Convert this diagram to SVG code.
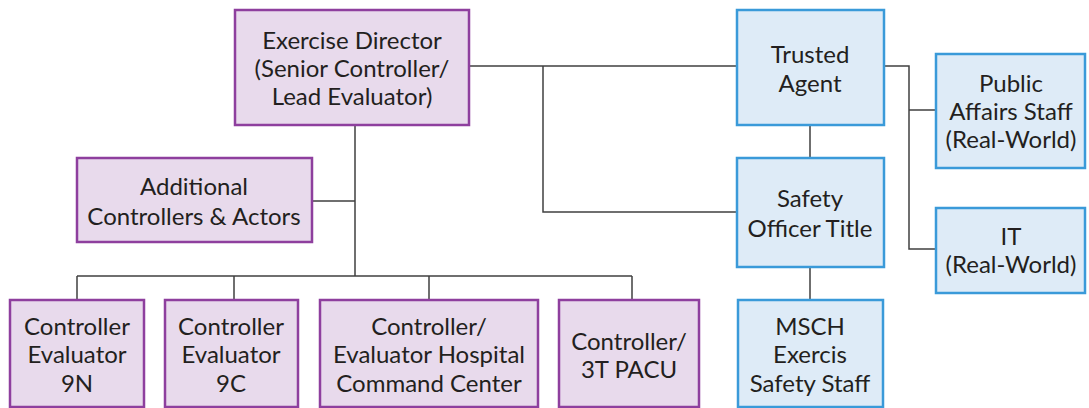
<svg xmlns="http://www.w3.org/2000/svg" width="1089" height="408" viewBox="0 0 1089 408">
<style>
.p{fill:#E8DAEC;stroke:#8E3F9E;stroke-width:2.5}
.b{fill:#DEEBF7;stroke:#3A9AD9;stroke-width:2.5}
.t{font-family:Lato,"Liberation Sans",sans-serif;font-size:24px;fill:#231F20;text-anchor:middle}
.c{fill:none;stroke:#404040;stroke-width:1.5}
</style>
<rect width="1089" height="408" fill="#fff"/>
<g id="connectors">
<path class="c" d="M469 66H737M543 66V212H737M355 125V276M312 201H355M77 276H632M77 276V300M234 276V300M429 276V300M632 276V300M884 66H909V249H936M909 110H936M810 125V158M810 267V300"/>
</g>
<g id="director"><rect class="p" x="235" y="10" width="234" height="115"/>
<text class="t" x="352" y="49">Exercise Director</text><text class="t" x="352" y="77">(Senior Controller/</text><text class="t" x="352" y="105">Lead Evaluator)</text></g>
<g id="trusted"><rect class="b" x="737" y="10" width="147" height="115"/>
<text class="t" x="810" y="63">Trusted</text><text class="t" x="810" y="92">Agent</text></g>
<g id="public"><rect class="b" x="936" y="54" width="149" height="114"/>
<text class="t" x="1011" y="92">Public</text><text class="t" x="1011" y="120">Affairs Staff</text><text class="t" x="1011" y="148">(Real-World)</text></g>
<g id="it"><rect class="b" x="936" y="208" width="149" height="85"/>
<text class="t" x="1011" y="245">IT</text><text class="t" x="1011" y="273">(Real-World)</text></g>
<g id="safety"><rect class="b" x="737" y="158" width="147" height="109"/>
<text class="t" x="810" y="207">Safety</text><text class="t" x="810" y="237">Officer Title</text></g>
<g id="msch"><rect class="b" x="738" y="300" width="145" height="107"/>
<text class="t" x="810" y="335">MSCH</text><text class="t" x="810" y="363">Exercis</text><text class="t" x="810" y="392">Safety Staff</text></g>
<g id="additional"><rect class="p" x="77" y="158" width="235" height="84"/>
<text class="t" x="194" y="195">Additional</text><text class="t" x="194" y="225">Controllers &amp; Actors</text></g>
<g id="ce9n"><rect class="p" x="10" y="300" width="134" height="107"/>
<text class="t" x="77" y="335">Controller</text><text class="t" x="77" y="363">Evaluator</text><text class="t" x="77" y="392">9N</text></g>
<g id="ce9c"><rect class="p" x="165" y="300" width="133" height="107"/>
<text class="t" x="231" y="335">Controller</text><text class="t" x="231" y="363">Evaluator</text><text class="t" x="231" y="392">9C</text></g>
<g id="hcc"><rect class="p" x="320" y="300" width="218" height="107"/>
<text class="t" x="429" y="335">Controller/</text><text class="t" x="429" y="363">Evaluator Hospital</text><text class="t" x="429" y="392">Command Center</text></g>
<g id="pacu"><rect class="p" x="559" y="300" width="140" height="107"/>
<text class="t" x="629" y="350">Controller/</text><text class="t" x="629" y="378">3T PACU</text></g>
</svg>
